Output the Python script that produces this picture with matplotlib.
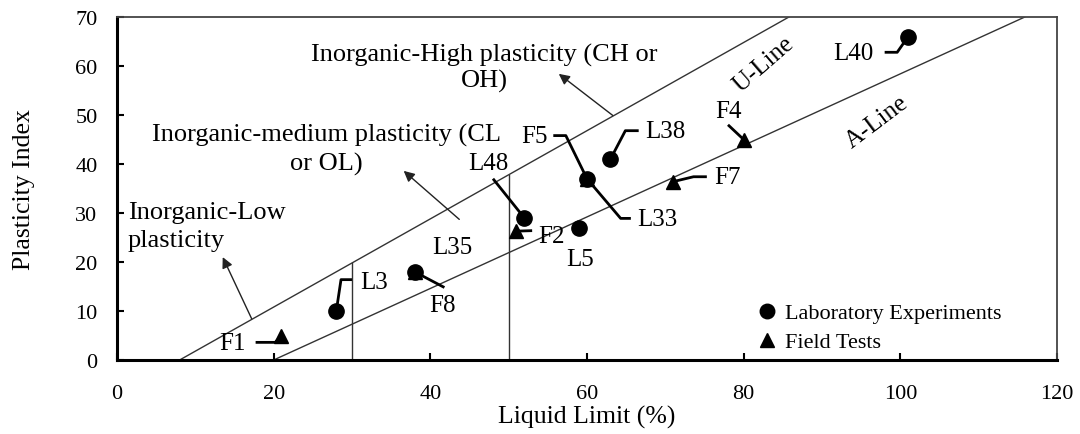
import numpy as np
import matplotlib.pyplot as plt

plt.rcParams['font.family'] = ['Liberation Serif', 'DejaVu Serif']

# Laboratory experiments (liquid limit, plasticity index)
lab_names = ['L3', 'L5', 'L33', 'L35', 'L38', 'L40', 'L48']
lab_ll = [28, 59, 60, 38, 63, 101, 52]
lab_pi = [10, 27, 37, 18, 41, 66, 29]

# Field tests
field_names = ['F1', 'F2', 'F4', 'F5', 'F7', 'F8']
field_ll = [21, 51, 80, 60, 71, 38]
field_pi = [5, 26.3, 45, 37, 36.4, 18]

# Casagrande chart lines
def u_line(ll):
    return 0.9 * (ll - 8)

def a_line(ll):
    return 0.73 * (ll - 20)

fig = plt.figure(figsize=(10.8, 4.35), dpi=100)
ax = fig.add_axes([0.1083, 0.1701, 0.8704, 0.7885])
ax.set_xlim(0, 120)
ax.set_ylim(0, 70)

line_kw = dict(color='#333333', lw=1.0, zorder=1)
xu = np.array([8, 70 / 0.9 + 8])
ax.plot(xu, u_line(xu), **line_kw)
xa = np.array([20, 70 / 0.73 + 20])
ax.plot(xa, a_line(xa), **line_kw)
for xv in (30, 50):
    ax.plot([xv, xv], [0, u_line(xv)], **line_kw)

fs = 18
ax.text(82.6, 60.4, 'U-Line', rotation=41, ha='center', va='center',
        fontsize=fs, rotation_mode='anchor')
ax.text(97.0, 48.7, 'A-Line', rotation=37, ha='center', va='center',
        fontsize=fs, rotation_mode='anchor')

# markers
ax.plot(field_ll, field_pi, ls='none', marker='^', ms=10.5, color='black', zorder=3,
        label='Field Tests')
ax.plot(lab_ll, lab_pi, ls='none', marker='o', ms=11, color='black', zorder=4,
        label='Laboratory Experiments')

lab = dict(zip(lab_names, zip(lab_ll, lab_pi)))
field = dict(zip(field_names, zip(field_ll, field_pi)))

# leader polylines end on the point they name
def leader(path, pt):
    xs = [p[0] for p in path] + [pt[0]]
    ys = [p[1] for p in path] + [pt[1]]
    ax.plot(xs, ys, color='black', lw=2, zorder=2, solid_capstyle='butt')

leader([(98.0, 62.8), (99.6, 62.8)], lab['L40'])
ax.text(96.6, 62.6, 'L40', ha='right', va='center', fontsize=fs)

leader([(66.6, 46.8), (64.9, 46.8)], lab['L38'])
ax.text(67.4, 46.8, 'L38', ha='left', va='center', fontsize=fs)

leader([(78.0, 48.0)], field['F4'])
ax.text(78.0, 50.8, 'F4', ha='center', va='center', fontsize=fs)

leader([(75.3, 37.4), (73.6, 37.4)], field['F7'])
ax.text(76.2, 37.4, 'F7', ha='left', va='center', fontsize=fs)

leader([(55.7, 45.8), (57.3, 45.8)], field['F5'])
ax.text(55.0, 45.8, 'F5', ha='right', va='center', fontsize=fs)

leader([(65.6, 28.9), (64.3, 28.9)], lab['L33'])
ax.text(66.4, 28.7, 'L33', ha='left', va='center', fontsize=fs)

leader([(48.0, 37.0)], lab['L48'])
ax.text(47.4, 40.2, 'L48', ha='center', va='center', fontsize=fs)

leader([(53.0, 26.4)], field['F2'])
ax.text(53.8, 25.4, 'F2', ha='left', va='center', fontsize=fs)

ax.text(59.1, 20.6, 'L5', ha='center', va='center', fontsize=fs)
ax.text(42.8, 23.0, 'L35', ha='center', va='center', fontsize=fs)

leader([(41.8, 14.8)], field['F8'])
ax.text(41.6, 11.2, 'F8', ha='center', va='center', fontsize=fs)

leader([(30.0, 16.4), (28.6, 16.4)], lab['L3'])
ax.text(31.1, 16.0, 'L3', ha='left', va='center', fontsize=fs)

leader([(17.7, 3.6), (20.2, 3.6)], field['F1'])
ax.text(16.4, 3.4, 'F1', ha='right', va='center', fontsize=fs)

# zone descriptions with arrows
arrow_kw = dict(arrowstyle='-|>', color='#222222', lw=1.0, mutation_scale=16,
                shrinkA=0, shrinkB=0)
zfs = 19
ax.text(46.9, 62.4, 'Inorganic-High plasticity (CH or', ha='center', va='center', fontsize=zfs)
ax.text(46.9, 57.0, 'OH)', ha='center', va='center', fontsize=zfs)
ax.annotate('', xy=(56.4, 58.4), xytext=(63.3, 49.9), arrowprops=arrow_kw)

ax.text(26.7, 46.1, 'Inorganic-medium plasticity (CL', ha='center', va='center', fontsize=zfs)
ax.text(26.7, 40.2, 'or OL)', ha='center', va='center', fontsize=zfs)
ax.annotate('', xy=(36.6, 38.6), xytext=(43.7, 28.7), arrowprops=arrow_kw)

ax.text(1.4, 30.2, 'Inorganic-Low', ha='left', va='center', fontsize=zfs)
ax.text(1.4, 24.4, 'plasticity', ha='left', va='center', fontsize=zfs)
ax.annotate('', xy=(13.5, 21.0), xytext=(17.2, 8.4), arrowprops=arrow_kw)

# axes styling
ax.set_xticks(np.arange(0, 121, 20))
ax.set_yticks(np.arange(0, 71, 10))
ax.tick_params(direction='in', length=5, width=1.5, labelsize=16)
ax.tick_params(axis='y', pad=14)
ax.tick_params(axis='x', pad=17)
for side in ('left', 'bottom'):
    ax.spines[side].set_linewidth(2.2)
    ax.spines[side].set_color('black')
for side in ('top', 'right'):
    ax.spines[side].set_linewidth(1.3)
    ax.spines[side].set_color('#444444')
ax.set_xlabel('Liquid Limit (%)', fontsize=18.5, labelpad=2)
ax.set_ylabel('Plasticity Index', fontsize=18.5, labelpad=29)

handles, labels = ax.get_legend_handles_labels()
ax.legend(handles[::-1], labels[::-1], loc='upper left', bbox_to_anchor=(0.68, 0.167),
          borderaxespad=0, borderpad=0, frameon=False, fontsize=16,
          handletextpad=0.3, handlelength=1.0, labelspacing=0.38, markerscale=0.95)

fig.savefig('out.png', dpi=100)
